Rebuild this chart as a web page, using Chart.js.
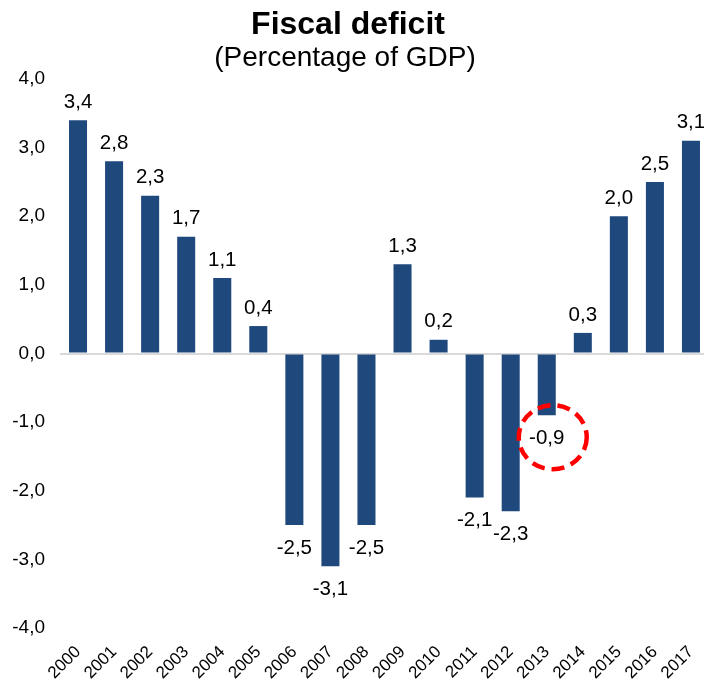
<!DOCTYPE html>
<html>
<head>
<meta charset="utf-8">
<script src="https://cdn.jsdelivr.net/npm/chart.js@4"></script>
<style>
  html, body { margin: 0; padding: 0; background: #fff; overflow: hidden; }
  #wrap { position: relative; width: 712px; height: 682px; }
</style>
</head>
<body>
<div id="wrap"><canvas id="myChart"></canvas></div>
<script>
var my_canva = document.getElementById('myChart');

const years = ['2000', '2001', '2002', '2003', '2004', '2005', '2006', '2007', '2008',
               '2009', '2010', '2011', '2012', '2013', '2014', '2015', '2016', '2017'];
const deficit = [3.4, 2.8, 2.3, 1.7, 1.1, 0.4, -2.5, -3.1, -2.5,
                 1.3, 0.2, -2.1, -2.3, -0.9, 0.3, 2.0, 2.5, 3.1];
const y_ticks = [-4, -3, -2, -1, 0, 1, 2, 3, 4];
const circled_year = '2013';

const bar_color = '#1F497D';
const font_name = '"Liberation Sans", Arial, sans-serif';

function comma(v) {
    return v.toFixed(1).replace('.', ',');
}

// title and subtitle, centred over the plot
const titles = {
    id: 'titles',
    afterDraw(chart) {
        const ctx = chart.ctx;
        ctx.save();
        ctx.fillStyle = '#000';
        ctx.textAlign = 'center';
        ctx.textBaseline = 'alphabetic';
        ctx.font = 'bold 32px ' + font_name;
        ctx.fillText('Fiscal deficit', 348, 34);
        ctx.font = '28px ' + font_name;
        ctx.fillText('(Percentage of GDP)', 345, 66);
        ctx.restore();
    }
};

// value labels at the end of each bar, plus the dashed ring on the circled year
const bar_labels = {
    id: 'bar_labels',
    afterDatasetsDraw(chart) {
        const ctx = chart.ctx;
        const meta = chart.getDatasetMeta(0);
        ctx.save();
        ctx.fillStyle = '#000';
        ctx.font = '20.5px ' + font_name;
        ctx.textAlign = 'center';
        ctx.textBaseline = 'middle';
        meta.data.forEach(function(bar, i) {
            const v = deficit[i];
            const y = v >= 0 ? bar.y - 18 : bar.y + 23;
            ctx.fillText(comma(v), bar.x, y);
            if (years[i] === circled_year) {
                ctx.save();
                ctx.strokeStyle = '#FF0000';
                ctx.lineWidth = 4.5;
                ctx.setLineDash([13, 7]);
                ctx.beginPath();
                ctx.ellipse(bar.x + 6, y - 1, 34, 32, 0, 0, Math.PI * 2);
                ctx.stroke();
                ctx.restore();
            }
        });
        ctx.restore();
    }
};

const data = {
    labels: years,
    datasets: [{
        label: 'Fiscal deficit',
        data: deficit,
        backgroundColor: bar_color,
        borderWidth: 0,
        barPercentage: 0.5,
        categoryPercentage: 1.0
    }]
};

const config = {
    type: 'bar',
    data: data,
    plugins: [titles, bar_labels],
    options: {
        responsive: true,
        maintainAspectRatio: false,
        animation: false,
        layout: { padding: { top: 79, right: 3, left: 0, bottom: 0 } },
        plugins: {
            legend: { display: false },
            title: { display: false },
            tooltip: { enabled: false }
        },
        scales: {
            x: {
                grid: { display: false },
                border: { display: false },
                ticks: {
                    color: '#000',
                    font: { family: font_name, size: 17 },
                    maxRotation: 45,
                    minRotation: 45,
                    padding: 6,
                    autoSkip: false
                },
                afterFit(scale) { scale.height = 54; }
            },
            y: {
                min: -4,
                max: 4,
                afterBuildTicks(scale) {
                    scale.ticks = y_ticks.map(function(v) { return { value: v }; });
                },
                grid: {
                    drawTicks: false,
                    lineWidth: 2,
                    color: function(c) { return c.tick && c.tick.value === 0 ? '#D9D9D9' : 'rgba(0,0,0,0)'; }
                },
                border: { display: false },
                ticks: {
                    color: '#000',
                    font: { family: font_name, size: 19 },
                    padding: 15,
                    callback: function(v) { return comma(v); }
                },
                afterFit(scale) { scale.width = 60; }
            }
        }
    }
};

const deficit_chart = new Chart(my_canva, config);
</script>
</body>
</html>
